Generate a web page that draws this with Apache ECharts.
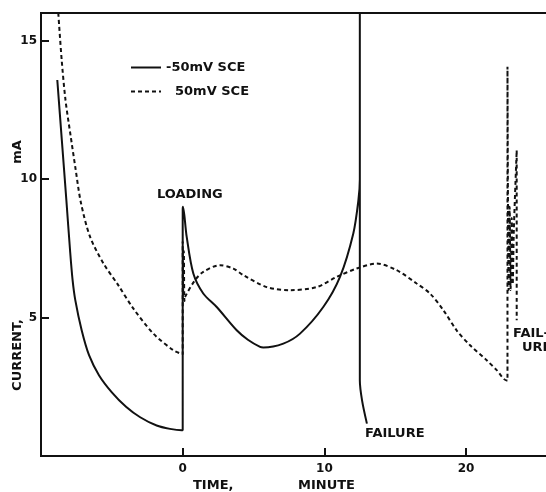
<!DOCTYPE html>
<html>
<head>
<meta charset="utf-8">
<script src="https://cdn.jsdelivr.net/npm/echarts@6/dist/echarts.min.js"></script>
<style>
html,body{margin:0;padding:0;background:#fff;}
#chart{width:546px;height:492px;}
</style>
</head>
<body>
<div id="chart"></div>
<script>
// Series names
const seriesNames = ['-50mV SCE', '50mV SCE'];

// -50mV SCE (solid): time (min), current (mA)
const solidX = [-8.85, -8.53, -8.21, -7.95, -7.77, -7.58, -7.13, -6.61, -5.91, -5.0, -4.0, -3.0, -1.84, -0.9, -0.07, 0.0, 0.0, 0.02,
  0.28, 0.75, 1.45, 2.4, 3.81, 4.6, 5.46, 5.69, 7.1, 8.28, 9.92, 11.1, 12.04, 12.4, 12.5, 12.5, 12.5, 12.66, 13.0];
const solidY = [13.58, 11.41, 9.24, 7.43, 6.35, 5.63, 4.54, 3.64, 2.92, 2.3, 1.78, 1.4, 1.1, 0.98, 0.93, 0.93, 8.9, 9.0,
  7.92, 6.59, 5.87, 5.38, 4.54, 4.2, 3.94, 3.92, 4.06, 4.42, 5.38, 6.47, 8.04, 9.24, 10.0, 16.0, 2.73, 2.0, 1.17];

// 50mV SCE (dashed): time (min), current (mA)
const dashedX = [-8.78, -8.54, -8.27, -7.92, -7.57, -7.18, -6.54, -5.6, -4.55, -3.49, -2.07, -0.66, 0.0, 0.0, 0.04, 0.08, 0.12, 0.16,
  0.87, 1.45, 2.63, 3.57, 4.28, 5.93, 7.57, 9.45, 10.87, 12.28, 13.69, 15.1, 16.51, 17.45, 18.39, 19.33, 20.28, 21.45, 22.16, 22.86,
  22.92, 22.92, 23.0, 23.07, 23.14, 23.22, 23.29, 23.37, 23.57, 23.57];
const dashedY = [16.0, 14.3, 12.85, 11.6, 10.4, 9.14, 7.92, 6.96, 6.17, 5.33, 4.42, 3.82, 3.67, 7.75, 5.8, 7.4, 5.6, 5.74,
  6.35, 6.65, 6.89, 6.77, 6.53, 6.1, 5.99, 6.1, 6.47, 6.77, 6.95, 6.71, 6.23, 5.87, 5.27, 4.54, 4.0, 3.46, 3.1, 2.73,
  2.73, 14.06, 6.0, 9.0, 6.0, 8.6, 6.2, 8.2, 11.04, 4.9];

// Axis ticks
const xTickLabels = ['0', '10', '20'];
const yTickLabels = ['5', '10', '15'];

const FONT = 'DejaVu Sans';
const INK = '#111';
const TXT = 'bold 13px "DejaVu Sans"';

function pairs(xs, ys) { return xs.map((x, i) => [x, ys[i]]); }

const chart = echarts.init(document.getElementById('chart'), null, {renderer: 'canvas'});
chart.setOption({
  animation: false,
  backgroundColor: '#fff',
  grid: {left: 41, width: 508, top: 13, bottom: 36, outerBoundsMode: 'none', containLabel: false,
    show: true, borderColor: INK, borderWidth: 2, backgroundColor: 'transparent'},
  legend: {
    orient: 'vertical', left: 125, top: 56, itemWidth: 30, itemHeight: 12, itemGap: 11,
    itemStyle: {color: 'transparent', borderWidth: 0, opacity: 0},
    textStyle: {fontFamily: FONT, fontWeight: 'bold', fontSize: 13, color: INK},
    data: [
      {name: seriesNames[0], textStyle: {padding: [0, 0, 0, 0]}},
      {name: seriesNames[1], textStyle: {padding: [0, 0, 0, 9]}}
    ]
  },
  xAxis: {
    type: 'value', min: -10, max: 25.85, interval: 10,
    axisLine: {show: true, onZero: false, lineStyle: {color: INK, width: 2}},
    axisTick: {show: true, inside: true, length: 8, lineStyle: {color: INK, width: 2}},
    splitLine: {show: false},
    axisLabel: {
      margin: 7, fontFamily: FONT, fontWeight: 'bold', fontSize: 12, color: INK,
      formatter: v => xTickLabels.includes(String(v)) ? String(v) : ''
    }
  },
  yAxis: {
    type: 'value', min: 0, max: 16, interval: 5,
    axisLine: {show: true, onZero: false, lineStyle: {color: INK, width: 2}},
    axisTick: {show: true, inside: true, length: 8, lineStyle: {color: INK, width: 2}},
    splitLine: {show: false},
    axisLabel: {
      margin: 4, fontFamily: FONT, fontWeight: 'bold', fontSize: 12, color: INK,
      formatter: v => yTickLabels.includes(String(v)) ? String(v) : ''
    }
  },
  graphic: [
    {type: 'text', left: 193, top: 479, style: {text: 'TIME,', font: TXT, fill: INK}},
    {type: 'text', left: 298, top: 479, style: {text: 'MINUTE', font: TXT, fill: INK}},
    {type: 'text', x: 18, y: 355, rotation: Math.PI / 2, style: {text: 'CURRENT,', font: TXT, fill: INK, align: 'center', verticalAlign: 'middle'}},
    {type: 'text', x: 18, y: 152, rotation: Math.PI / 2, style: {text: 'mA', font: TXT, fill: INK, align: 'center', verticalAlign: 'middle'}},
    {type: 'text', left: 157, top: 188, style: {text: 'LOADING', font: TXT, fill: INK}},
    {type: 'text', left: 365, top: 427, style: {text: 'FAILURE', font: TXT, fill: INK}},
    {type: 'text', left: 513, top: 327, style: {text: 'FAIL-', font: TXT, fill: INK}},
    {type: 'text', left: 522, top: 341, style: {text: 'URE', font: TXT, fill: INK}}
  ],
  series: [
    {
      name: seriesNames[0], type: 'line', data: pairs(solidX, solidY), symbol: 'none', smooth: 0.3,
      lineStyle: {color: INK, width: 2}, itemStyle: {color: INK}, clip: true
    },
    {
      name: seriesNames[1], type: 'line', data: pairs(dashedX, dashedY), symbol: 'none', smooth: 0.3,
      lineStyle: {color: INK, width: 2, type: [4, 3]}, itemStyle: {color: INK}, clip: true
    }
  ]
});
</script>
</body>
</html>
